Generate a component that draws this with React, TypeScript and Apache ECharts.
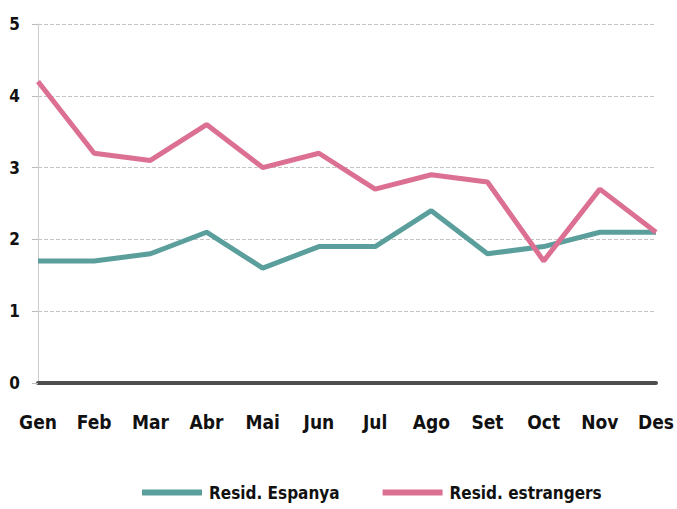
import React, { useEffect, useRef } from "react";
import * as echarts from "echarts";

const months = ["Gen", "Feb", "Mar", "Abr", "Mai", "Jun", "Jul", "Ago", "Set", "Oct", "Nov", "Des"];
const residEspanya = [1.7, 1.7, 1.8, 2.1, 1.6, 1.9, 1.9, 2.4, 1.8, 1.9, 2.1, 2.1];
const residEstrangers = [4.2, 3.2, 3.1, 3.6, 3.0, 3.2, 2.7, 2.9, 2.8, 1.7, 2.7, 2.1];
const seriesNames = ["Resid. Espanya", "Resid. estrangers"];

const FONT = "'Liberation Sans Narrow', 'DejaVu Sans Condensed', sans-serif";

export default function App() {
  const ref = useRef<HTMLDivElement>(null);
  useEffect(() => {
    if (!ref.current) return;
    const chart = echarts.init(ref.current, undefined, { renderer: "svg" });
    chart.setOption({
      animation: false,
      grid: { left: 38, right: 20, top: 24, bottom: 126, containLabel: false },
      legend: {
        bottom: 3,
        left: 137,
        icon: "rect",
        itemWidth: 60,
        itemHeight: 6,
        itemGap: 43,
        textStyle: { fontFamily: FONT, fontWeight: "bold", fontSize: 17, color: "#111", padding: [0, 0, 0, 2] },
        data: seriesNames,
      },
      xAxis: {
        type: "category",
        data: months,
        boundaryGap: false,
        axisLine: { show: true, lineStyle: { color: "#4d4d4d", width: 4 } },
        axisTick: { show: false },
        axisLabel: {
          margin: 29,
          fontFamily: FONT,
          fontWeight: "bold",
          fontSize: 19,
          color: "#111",
        },
      },
      yAxis: {
        type: "value",
        min: 0,
        max: 5,
        interval: 1,
        axisLine: { show: true, lineStyle: { color: "#cccccc", width: 1 } },
        axisTick: { show: true, length: 6, lineStyle: { color: "#bbbbbb" } },
        axisLabel: {
          margin: 18,
          fontFamily: FONT,
          fontWeight: "bold",
          fontSize: 17,
          color: "#111",
        },
        splitLine: { show: true, lineStyle: { color: "#c4c4c4", type: "dashed", width: 1 } },
      },
      series: [
        {
          name: seriesNames[0],
          type: "line",
          data: residEspanya,
          symbol: "none",
          lineStyle: { width: 5, color: "#5b9f9d" },
          itemStyle: { color: "#5b9f9d" },
          z: 3,
        },
        {
          name: seriesNames[1],
          type: "line",
          data: residEstrangers,
          symbol: "none",
          lineStyle: { width: 5, color: "#dc7093" },
          itemStyle: { color: "#dc7093" },
          z: 4,
        },
      ],
    });
    return () => chart.dispose();
  }, []);
  return <div ref={ref} style={{ width: 677, height: 509, position: "absolute", left: 0, top: 0 }} />;
}
